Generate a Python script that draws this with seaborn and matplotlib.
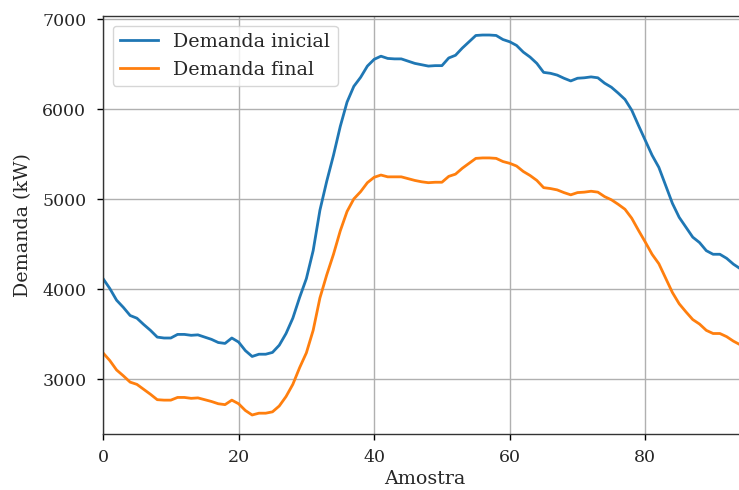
import numpy as np
import pandas as pd
import matplotlib
matplotlib.use("Agg")
import matplotlib.pyplot as plt
import seaborn as sns

# Demand profile per sample (kW)
demanda_inicial = [
    4120, 4010, 3880, 3800, 3710, 3680, 3610, 3545, 3470, 3460,
    3460, 3500, 3500, 3490, 3495, 3470, 3445, 3410, 3400, 3460,
    3415, 3320, 3255, 3280, 3280, 3300, 3380, 3510, 3680, 3910,
    4120, 4430, 4880, 5200, 5490, 5810, 6080, 6255, 6355, 6480,
    6555, 6590, 6565, 6560, 6560, 6535, 6510, 6495, 6480, 6485,
    6485, 6570, 6600, 6680, 6750, 6820, 6825, 6825, 6820, 6775,
    6750, 6710, 6635, 6580, 6510, 6410, 6400, 6380, 6345, 6315,
    6345, 6350, 6360, 6350, 6290, 6245, 6180, 6110, 5990, 5820,
    5655, 5490, 5355, 5155, 4955, 4800, 4690, 4580, 4520, 4430,
    4390, 4390, 4345, 4280, 4230, 4180,
]
demanda_final = [
    3295, 3210, 3105, 3040, 2970, 2945, 2890, 2835, 2775, 2770,
    2770, 2800, 2800, 2790, 2795, 2775, 2755, 2730, 2720, 2770,
    2730, 2655, 2605, 2625, 2625, 2640, 2705, 2810, 2945, 3130,
    3295, 3545, 3905, 4160, 4390, 4650, 4865, 5005, 5085, 5185,
    5245, 5270, 5250, 5250, 5250, 5230, 5210, 5195, 5185, 5190,
    5190, 5255, 5280, 5345, 5400, 5455, 5460, 5460, 5455, 5420,
    5400, 5370, 5310, 5265, 5210, 5130, 5120, 5105, 5075, 5050,
    5075, 5080, 5090, 5080, 5030, 4995, 4945, 4890, 4790, 4655,
    4525, 4390, 4285, 4125, 3965, 3840, 3750, 3665, 3615, 3545,
    3510, 3510, 3475, 3425, 3385, 3345,
]
amostra = np.arange(len(demanda_inicial))

plt.rcParams["font.family"] = ["DejaVu Serif"]
plt.rcParams["font.size"] = 12.5
plt.rcParams["text.color"] = "#262626"
plt.rcParams["axes.labelcolor"] = "#262626"
plt.rcParams["xtick.labelcolor"] = "#262626"
plt.rcParams["ytick.labelcolor"] = "#262626"

fig = plt.figure(figsize=(7.39, 4.90), dpi=100)
ax = fig.add_axes([0.1394, 0.1143, 0.8714, 0.853])

sns.lineplot(x=amostra, y=demanda_inicial, ax=ax, color="#1f77b4",
             linewidth=2.0, label="Demanda inicial")
sns.lineplot(x=amostra, y=demanda_final, ax=ax, color="#ff7f0e",
             linewidth=2.0, label="Demanda final")

ax.set_xlim(0, amostra[-1])
ax.set_xticks([0, 20, 40, 60, 80])
ax.set_yticks([3000, 4000, 5000, 6000, 7000])
ax.grid(True, color="#b0b0b0", linewidth=1.0)
ax.set_axisbelow(True)
ax.set_xlabel("Amostra", fontsize=13.7, labelpad=3.5)
ax.set_ylabel("Demanda (kW)", fontsize=13.7, labelpad=7)
ax.tick_params(length=4.5, width=1.0, labelsize=12.5)
ax.tick_params(axis="y", pad=7.5)
ax.tick_params(axis="x", pad=6)
for s in ax.spines.values():
    s.set_linewidth(1.0)
    s.set_color("#333333")
ax.legend(loc="upper left", fontsize=13.7, framealpha=0.8)

fig.savefig("out.png", dpi=100)
